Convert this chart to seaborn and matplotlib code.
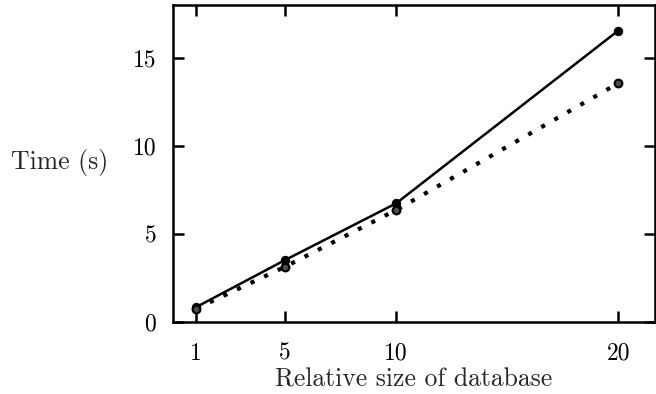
import matplotlib
matplotlib.use("Agg")
import matplotlib.pyplot as plt
import seaborn as sns
import pandas as pd

sizes = [1, 5, 10, 20]
time_solid = [0.85, 3.52, 6.74, 16.55]
time_dotted = [0.76, 3.14, 6.36, 13.56]
xticks = [1, 5, 10, 20]
yticks = [0, 5, 10, 15]

sns.set_style("ticks")
plt.rcParams["font.family"] = ["cmr10", "DejaVu Serif"]
plt.rcParams["axes.formatter.use_mathtext"] = True

fig = plt.figure(figsize=(6.56, 3.94), dpi=100)
ax = fig.add_axes([173/656, 1-322/394, (655-173)/656, (322-5)/394])

df1 = pd.DataFrame({"x": sizes, "y": time_solid})
df2 = pd.DataFrame({"x": sizes, "y": time_dotted})
sns.lineplot(data=df1, x="x", y="y", ax=ax, color="black", lw=1.8,
             marker="o", markersize=6, markeredgecolor="black")
sns.lineplot(data=df2, x="x", y="y", ax=ax, color="black", lw=3,
             linestyle=(0, (1, 2.6)), marker=None)
ax.plot(sizes, time_dotted, ls="none", marker="o", markersize=5.5,
        markerfacecolor="0.3", markeredgecolor="black", markeredgewidth=1.6)

ax.set_xlim(-0.05, 21.65)
ax.set_ylim(0, 18)
ax.set_xticks(xticks)
ax.set_yticks(yticks)
ax.set_xticklabels([str(v) for v in xticks])
ax.set_yticklabels([str(v) for v in yticks])
ax.tick_params(direction="in", length=8, width=1.8, top=True, right=True,
               labelsize=17, pad=12, colors="black")
ax.tick_params(axis="x", pad=15)
for s in ax.spines.values():
    s.set_linewidth(1.8)
    s.set_visible(True)
    s.set_color("black")
ax.set_xlabel("Relative size of database", fontsize=18.5, labelpad=2)
ax.set_ylabel("")
fig.text(60/656, 1-162/394, "Time (s)", fontsize=18.5, ha="center", va="center",
         family=["cmr10", "DejaVu Serif"])
fig.savefig("out.png", dpi=100)
